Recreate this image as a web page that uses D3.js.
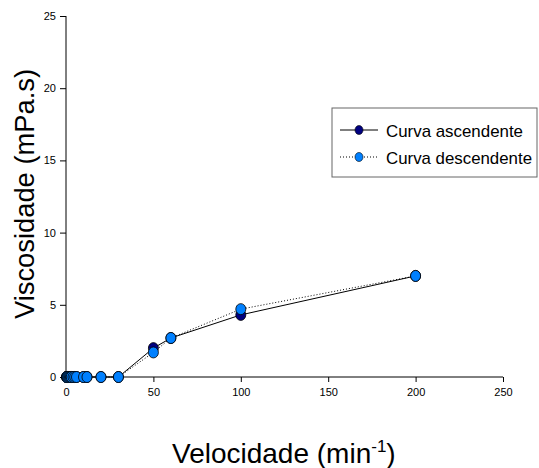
<!DOCTYPE html>
<html><head><meta charset="utf-8">
<script src="https://cdn.jsdelivr.net/npm/d3@7"></script>
<style>body{margin:0;background:#fff}svg{display:block}text{font-family:"Liberation Sans",Arial,sans-serif}</style>
</head><body>
<svg id="c" width="539" height="468"></svg>
<script>
const speeds = [0.3, 0.5, 0.6, 1, 1.5, 2, 2.5, 3, 4, 5, 6, 10, 12, 20, 30, 50, 60, 100, 200];
const ascendente = [0, 0, 0, 0, 0, 0, 0, 0, 0, 0, 0, 0, 0, 0, 0, 2.0, 2.7, 4.3, 7.0];
const descendente = [0, 0, 0, 0, 0, 0, 0, 0, 0, 0, 0, 0, 0, 0, 0, 1.7, 2.7, 4.7, 7.0];
const xTicks = [0, 50, 100, 150, 200, 250];
const yTicks = [0, 5, 10, 15, 20, 25];
const seriesNames = ["Curva ascendente", "Curva descendente"];

const svg = d3.select("#c");
const x = d3.scaleLinear().domain([0, 250]).range([66, 503]);
const y = d3.scaleLinear().domain([0, 25]).range([377, 16]);

const xAxis = svg.append("g").attr("transform", "translate(0,377)")
  .call(d3.axisBottom(x).tickValues(xTicks).tickSize(5).tickPadding(6));
const yAxis = svg.append("g").attr("transform", "translate(66,0)")
  .call(d3.axisLeft(y).tickValues(yTicks).tickSize(6).tickPadding(4));
[xAxis, yAxis].forEach(a => {
  a.select(".domain").attr("stroke", "#000");
  a.selectAll(".tick line").attr("stroke", "#000");
  a.selectAll(".tick text").attr("fill", "#000").style("font-size", "11px").style("font-family", "Liberation Sans, Arial, sans-serif");
});
xAxis.select(".domain").attr("d", "M66,0H503");
yAxis.select(".domain").attr("d", "M0,16V377");

const line = d3.line().x(d => x(d[0])).y(d => y(d[1]));
const ascData = speeds.map((s, i) => [s, ascendente[i]]);
const descData = speeds.map((s, i) => [s, descendente[i]]);

svg.append("path").datum(ascData).attr("d", line).attr("fill", "none").attr("stroke", "#000").attr("stroke-width", 1);
svg.append("path").datum(descData).attr("d", line).attr("fill", "none").attr("stroke", "#000").attr("stroke-width", 1).attr("stroke-dasharray", "1,2");

svg.append("g").selectAll("ellipse").data(ascData).join("ellipse")
  .attr("cx", d => x(d[0])).attr("cy", d => y(d[1])).attr("rx", 5).attr("ry", 5.5)
  .attr("fill", "#000080").attr("stroke", "#000").attr("stroke-width", 0.8);
svg.append("g").selectAll("ellipse").data(descData).join("ellipse")
  .attr("cx", d => x(d[0])).attr("cy", d => y(d[1])).attr("rx", 5).attr("ry", 5.5)
  .attr("fill", "#0080ff").attr("stroke", "#000").attr("stroke-width", 0.8);

// axis titles
svg.append("text").attr("transform", "translate(34,194) rotate(-90)").attr("text-anchor", "middle")
  .style("font-size", "27px").attr("textLength", 250).attr("lengthAdjust", "spacingAndGlyphs")
  .text("Viscosidade (mPa.s)");
const xt = svg.append("text").attr("x", 172).attr("y", 463).attr("text-anchor", "start").style("font-size", "28px");
xt.append("tspan").text("Velocidade (min");
xt.append("tspan").attr("dy", -11).style("font-size", "17px").text("-1");
xt.append("tspan").attr("dy", 11).text(")");

// legend
const lg = svg.append("g");
lg.append("rect").attr("x", 332).attr("y", 108).attr("width", 205).attr("height", 69)
  .attr("fill", "#fff").attr("stroke", "#666").attr("stroke-width", 1);
const legRows = [
  {name: seriesNames[0], fill: "#000080", dash: null, yy: 130, len: 137},
  {name: seriesNames[1], fill: "#0080ff", dash: "1,2", yy: 157, len: 146}
];
legRows.forEach(r => {
  lg.append("line").attr("x1", 340).attr("x2", 378).attr("y1", r.yy).attr("y2", r.yy)
    .attr("stroke", "#000").attr("stroke-dasharray", r.dash);
  lg.append("ellipse").attr("cx", 359).attr("cy", r.yy).attr("rx", 4).attr("ry", 4.5)
    .attr("fill", r.fill).attr("stroke", "#000").attr("stroke-width", 0.6);
  lg.append("text").attr("x", 386).attr("y", r.yy + 7).style("font-size", "17px")
    .attr("textLength", r.len).attr("lengthAdjust", "spacingAndGlyphs").text(r.name);
});
</script>
</body></html>
